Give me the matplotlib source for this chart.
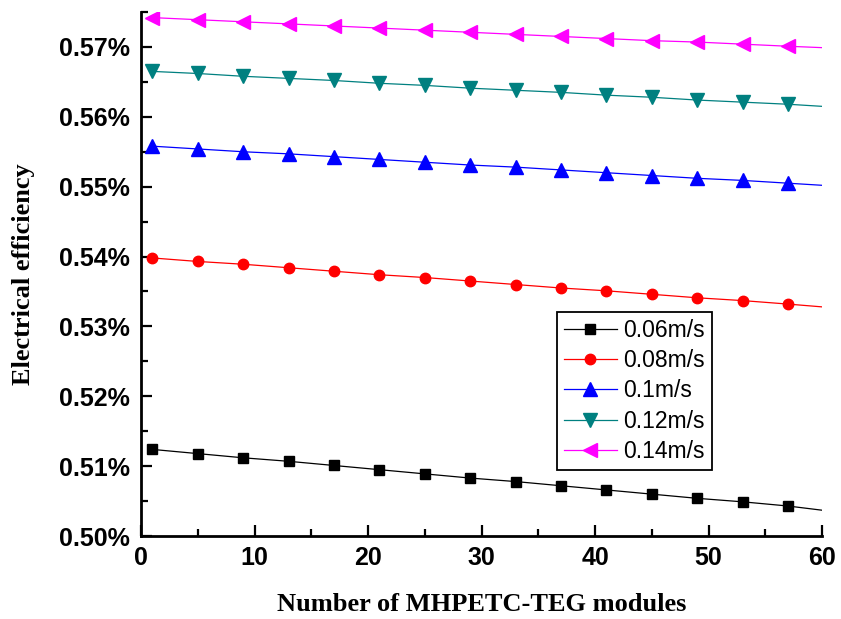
import matplotlib
matplotlib.use("Agg")
import matplotlib.pyplot as plt
from matplotlib.ticker import MultipleLocator, FormatStrFormatter

# ============================================
# DATA (efficiency in %)
# ============================================

modules = [1, 5, 9, 13, 17, 21, 25, 29, 33, 37, 41, 45, 49, 53, 57, 60]

eff_006 = [0.5124, 0.5118, 0.5112, 0.5107, 0.5101, 0.5095, 0.5089, 0.5083,
           0.5078, 0.5072, 0.5066, 0.5060, 0.5054, 0.5049, 0.5043, 0.5037]
eff_008 = [0.5398, 0.5393, 0.5389, 0.5384, 0.5379, 0.5374, 0.5370, 0.5365,
           0.5360, 0.5355, 0.5351, 0.5346, 0.5341, 0.5337, 0.5332, 0.5328]
eff_010 = [0.5558, 0.5554, 0.5550, 0.5547, 0.5543, 0.5539, 0.5535, 0.5531,
           0.5528, 0.5524, 0.5520, 0.5516, 0.5512, 0.5509, 0.5505, 0.5502]
eff_012 = [0.5665, 0.5662, 0.5658, 0.5655, 0.5652, 0.5648, 0.5645, 0.5641,
           0.5638, 0.5635, 0.5631, 0.5628, 0.5624, 0.5621, 0.5618, 0.5615]
eff_014 = [0.5742, 0.5739, 0.5736, 0.5733, 0.5730, 0.5727, 0.5724, 0.5721,
           0.5718, 0.5715, 0.5712, 0.5709, 0.5707, 0.5704, 0.5701, 0.5699]

labels = ["0.06m/s", "0.08m/s", "0.1m/s", "0.12m/s", "0.14m/s"]
series = [eff_006, eff_008, eff_010, eff_012, eff_014]
colors = ["black", "red", "blue", "#008080", "#ff00ff"]
markers = ["s", "o", "^", "v", "<"]
msizes = [6.5, 7.5, 9.5, 9.5, 10]

# ============================================
# PLOT
# ============================================

fig = plt.figure(figsize=(8.41, 6.19), dpi=100)
ax = fig.add_axes([0.1677, 0.134, 0.8097, 0.8466])

for y, lab, c, m, ms in zip(series, labels, colors, markers, msizes):
    ax.plot(modules, y, color=c, linewidth=0.9, marker=m, markersize=ms,
            markevery=list(range(len(modules) - 1)), label=lab)

ax.set_xlim(0, 60)
ax.set_ylim(0.50, 0.575)

ax.xaxis.set_major_locator(MultipleLocator(10))
ax.xaxis.set_minor_locator(MultipleLocator(5))
ax.yaxis.set_major_locator(MultipleLocator(0.01))
ax.yaxis.set_minor_locator(MultipleLocator(0.005))
ax.yaxis.set_major_formatter(FormatStrFormatter("%.2f%%"))

ax.spines["top"].set_visible(False)
ax.spines["right"].set_visible(False)
ax.spines["left"].set_linewidth(2)
ax.spines["bottom"].set_linewidth(2)

ax.tick_params(which="both", direction="in", width=1.6)
ax.tick_params(which="major", length=8)
ax.tick_params(which="minor", length=5)
ax.tick_params(axis="y", which="major", pad=8)
ax.tick_params(axis="x", which="major", pad=7)

for t in ax.get_xticklabels() + ax.get_yticklabels():
    t.set_fontfamily("Liberation Sans")
    t.set_fontweight("bold")
    t.set_fontsize(18)

ax.set_xlabel("Number of MHPETC-TEG modules", fontfamily="Liberation Serif",
              fontweight="bold", fontsize=19, labelpad=17)
ax.set_ylabel("Electrical efficiency", fontfamily="Liberation Serif",
              fontweight="bold", fontsize=19, labelpad=17)

leg = ax.legend(loc="upper left", bbox_to_anchor=(0.611, 0.428),
                prop={"family": "Liberation Sans", "size": 16.5},
                fancybox=False, shadow=False, framealpha=1,
                edgecolor="black", handlelength=2.3, labelspacing=0.32,
                borderpad=0.3, handletextpad=0.3, borderaxespad=0)
leg.get_frame().set_linewidth(1.3)

plt.savefig("out.png", dpi=100)
